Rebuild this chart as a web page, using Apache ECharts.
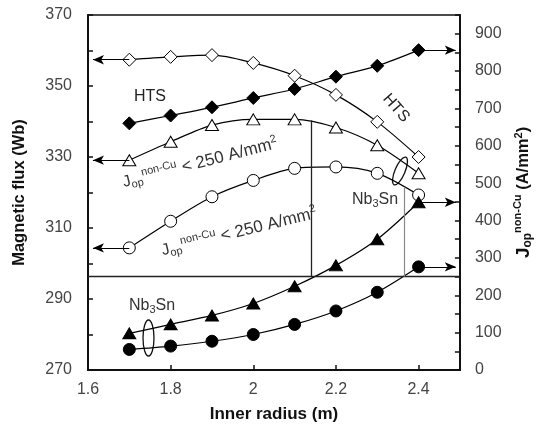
<!DOCTYPE html>
<html>
<head>
<meta charset="utf-8">
<script src="https://cdn.jsdelivr.net/npm/echarts@6/dist/echarts.min.js"></script>
<style>
  html, body { margin: 0; padding: 0; background: #fff; }
  #chart { width: 542px; height: 432px; }
</style>
</head>
<body>
<div id="chart"></div>
<script>
// inner radius (m)
var radius = [1.7, 1.8, 1.9, 2.0, 2.1, 2.2, 2.3, 2.4];
// magnetic flux (Wb), left axis
var htsFlux = [357.4, 358.2, 358.7, 356.5, 352.9, 347.5, 339.9, 330.0];
var nb3snFluxTri = [329.1, 334.3, 339.0, 340.6, 340.6, 338.3, 333.3, 325.4];
var nb3snFluxCirc = [304.4, 311.9, 318.8, 323.4, 326.8, 327.2, 325.4, 319.3];
// J_op non-Cu (A/mm2), right axis
var htsJ = [660, 681, 703, 728, 752, 785, 814, 856];
var nb3snJTri = [98, 122, 146, 178, 224, 280, 350, 449];
var nb3snJCirc = [55, 64, 77, 95, 122, 158, 208, 276];
// J limit and where it is crossed
var jLimit = 250;
var crossRadius = [2.14, 2.365];
var crossTopJ = [668, 489];

var FONT = 'Liberation Sans, Arial, sans-serif';

function pairs(ys) {
  return radius.map(function (x, i) { return [x, ys[i]]; });
}

function arrow(ys, toLeft) {
  var i = toLeft ? 0 : ys.length - 1;
  var xEnd = toLeft ? 1.612 : 2.49;
  return {
    silent: true,
    animation: false,
    symbol: ['none', 'arrow'],
    symbolSize: [7, 11],
    label: { show: false },
    lineStyle: { color: '#000', width: 1.2, type: 'solid' },
    data: [[{ coord: [radius[i], ys[i]] }, { coord: [xEnd, ys[i]] }]]
  };
}

function mkSeries(ys, axis, symbol, filled, toLeft) {
  return {
    type: 'line',
    yAxisIndex: axis,
    data: pairs(ys),
    smooth: 0.3,
    symbol: symbol,
    symbolSize: symbol === 'triangle' ? [13, 11] : (symbol === 'diamond' ? 13 : 12),
    lineStyle: { color: '#000', width: 1.2 },
    itemStyle: filled ? { color: '#000', borderColor: '#000', borderWidth: 1 }
                      : { color: '#fff', borderColor: '#000', borderWidth: 1 },
    emphasis: { disabled: true },
    markLine: arrow(ys, toLeft),
    z: 3
  };
}

var supRich = {
  j: { fontSize: 16, fontFamily: FONT },
  sub: { fontSize: 11, fontFamily: FONT, padding: [9, 0, 0, 0] },
  sup: { fontSize: 11, fontFamily: FONT, padding: [0, 0, 10, 0] },
  t: { fontSize: 17, fontFamily: FONT },
  sup2: { fontSize: 11, fontFamily: FONT, padding: [0, 0, 10, 0] }
};

var chart = echarts.init(document.getElementById('chart'));

// horizontal J limit line and the two vertical drop lines
var limitLines = {
  silent: true,
  animation: false,
  symbol: ['none', 'none'],
  label: { show: false },
  lineStyle: { color: '#222', width: 1.3, type: 'solid' },
  data: [
    { yAxis: jLimit },
    [{ coord: [crossRadius[0], jLimit] }, { coord: [crossRadius[0], crossTopJ[0]] }],
    [{ coord: [crossRadius[1], jLimit], lineStyle: { color: '#888', width: 1.2, type: 'solid' } },
     { coord: [crossRadius[1], crossTopJ[1]] }]
  ]
};

var option = {
  animation: false,
  backgroundColor: '#fff',
  grid: { left: 88, right: 76, top: 15, bottom: 62, show: true, borderColor: '#111', borderWidth: 1.5 },
  xAxis: {
    type: 'value',
    min: 1.6, max: 2.5, interval: 0.2,
    name: 'Inner radius (m)',
    nameLocation: 'middle',
    nameGap: 36,
    nameTextStyle: { fontFamily: FONT, fontSize: 17, fontWeight: 'bold', color: '#111' },
    axisLine: { lineStyle: { color: '#111', width: 2 } },
    axisTick: { inside: true, length: 5, lineStyle: { color: '#111', width: 1.5 } },
    axisLabel: {
      fontFamily: FONT, fontSize: 16, color: '#444', margin: 12,
      formatter: function (v) { return v > 2.45 ? '' : String(+v.toFixed(1)); }
    },
    splitLine: { show: false }
  },
  yAxis: [
    {
      type: 'value',
      min: 270, max: 370, interval: 10,
      name: 'Magnetic flux (Wb)',
      nameLocation: 'middle',
      nameRotate: 90,
      nameGap: 60,
      nameTextStyle: { fontFamily: FONT, fontSize: 16.5, fontWeight: 'bold', color: '#111' },
      axisLine: { show: true, lineStyle: { color: '#111', width: 2 } },
      axisTick: { inside: true, length: 5, lineStyle: { color: '#111', width: 1.5 } },
      axisLabel: {
        fontFamily: FONT, fontSize: 16, color: '#444', margin: 16,
        formatter: function (v) { return (v - 270) % 20 === 0 ? String(v) : ''; }
      },
      splitLine: { show: false }
    },
    {
      type: 'value',
      min: 0, max: 950, interval: 50,
      position: 'right',
      name: '{j|J}{sub|op}{sup|non-Cu}{t| (A/mm}{sup2|2}{t|)}',
      nameLocation: 'middle',
      nameRotate: 90,
      nameGap: 50,
      nameTextStyle: {
        fontFamily: FONT, fontWeight: 'bold', color: '#111',
        rich: {
          j: { fontSize: 19, fontWeight: 'bold', fontFamily: FONT, color: '#111' },
          sub: { fontSize: 12, fontWeight: 'bold', fontFamily: FONT, color: '#111', padding: [9, 0, 0, 0] },
          sup: { fontSize: 11, fontWeight: 'bold', fontFamily: FONT, color: '#111', padding: [0, 0, 11, 0] },
          t: { fontSize: 16.5, fontWeight: 'bold', fontFamily: FONT, color: '#111' },
          sup2: { fontSize: 11, fontWeight: 'bold', fontFamily: FONT, color: '#111', padding: [0, 0, 10, 0] }
        }
      },
      axisLine: { show: true, lineStyle: { color: '#111', width: 2 } },
      axisTick: { inside: true, length: 5, lineStyle: { color: '#111', width: 1.5 } },
      axisLabel: {
        fontFamily: FONT, fontSize: 16, color: '#444', margin: 15,
        formatter: function (v) { return (v % 100 === 0 && v <= 900) ? String(v) : ''; }
      },
      splitLine: { show: false }
    }
  ],
  series: [
    mkSeries(htsFlux, 0, 'diamond', false, true),
    mkSeries(htsJ, 1, 'diamond', true, false),
    mkSeries(nb3snFluxTri, 0, 'triangle', false, true),
    mkSeries(nb3snFluxCirc, 0, 'circle', false, true),
    mkSeries(nb3snJTri, 1, 'triangle', true, false),
    mkSeries(nb3snJCirc, 1, 'circle', true, false),
    {
      type: 'line', yAxisIndex: 1, data: [], silent: true,
      markLine: limitLines
    }
  ],
  graphic: [
    { type: 'text', x: 150, y: 97, silent: true,
      style: { text: 'HTS', fontFamily: FONT, fontSize: 16, fill: '#222', align: 'center', verticalAlign: 'middle' } },
    { type: 'text', x: 396, y: 108, rotation: -0.85, silent: true,
      style: { text: 'HTS', fontFamily: FONT, fontSize: 16, fill: '#222', align: 'center', verticalAlign: 'middle' } },
    { type: 'text', x: 200, y: 163, rotation: 0.25, silent: true,
      style: { text: '{j|J}{sub|op}{sup|non-Cu}{t| < 250 A/mm}{sup2|2}', fill: '#333', align: 'center', verticalAlign: 'middle', rich: supRich } },
    { type: 'text', x: 239, y: 232, rotation: 0.24, silent: true,
      style: { text: '{j|J}{sub|op}{sup|non-Cu}{t| < 250 A/mm}{sup2|2}', fill: '#333', align: 'center', verticalAlign: 'middle', rich: supRich } },
    { type: 'text', x: 375, y: 200, silent: true,
      style: { text: '{t|Nb}{sub|3}{t|Sn}', fill: '#333', align: 'center', verticalAlign: 'middle',
        rich: { t: { fontSize: 16, fontFamily: FONT }, sub: { fontSize: 11, fontFamily: FONT, padding: [8, 0, 0, 0] } } } },
    { type: 'text', x: 152, y: 306, silent: true,
      style: { text: '{t|Nb}{sub|3}{t|Sn}', fill: '#333', align: 'center', verticalAlign: 'middle',
        rich: { t: { fontSize: 16, fontFamily: FONT }, sub: { fontSize: 11, fontFamily: FONT, padding: [8, 0, 0, 0] } } } },
    { type: 'ellipse', x: 400, y: 171, rotation: -0.4, silent: true,
      shape: { cx: 0, cy: 0, rx: 5, ry: 15 },
      style: { fill: 'none', stroke: '#111', lineWidth: 1.3 } },
    { type: 'ellipse', x: 148.5, y: 338, silent: true,
      shape: { cx: 0, cy: 0, rx: 5.5, ry: 18 },
      style: { fill: 'none', stroke: '#111', lineWidth: 1.3 } }
  ]
};

chart.setOption(option);
</script>
</body>
</html>
